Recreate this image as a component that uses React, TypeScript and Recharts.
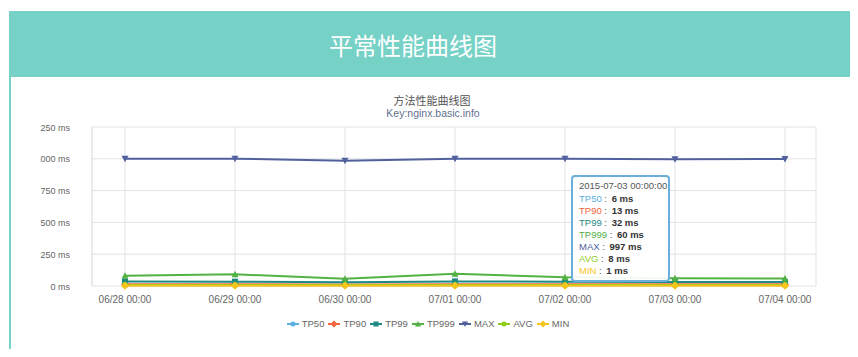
import React from "react";
import { LineChart, Line, XAxis, YAxis, CartesianGrid, Tooltip } from "recharts";

// categories
const dates = ["06/28 00:00", "06/29 00:00", "06/30 00:00", "07/01 00:00", "07/02 00:00", "07/03 00:00", "07/04 00:00"];
const fullDates = ["2015-06-28 00:00:00", "2015-06-29 00:00:00", "2015-06-30 00:00:00", "2015-07-01 00:00:00", "2015-07-02 00:00:00", "2015-07-03 00:00:00", "2015-07-04 00:00:00"];

// series values (ms)
const tp50 = [6, 6, 5, 6, 6, 6, 6];
const tp90 = [14, 13, 12, 14, 13, 13, 13];
const tp99 = [35, 34, 30, 36, 33, 32, 32];
const tp999 = [80, 92, 57, 97, 68, 60, 58];
const maxv = [1000, 1001, 985, 1000, 1000, 997, 998];
const avg = [8, 8, 7, 8, 8, 8, 8];
const minv = [1, 1, 1, 1, 1, 1, 1];

const yTicks = [0, 250, 500, 750, 1000, 1250];

const series = [
  { key: "TP50", color: "#5aafe0", shape: "circle", values: tp50 },
  { key: "TP90", color: "#f5643a", shape: "diamond", values: tp90 },
  { key: "TP99", color: "#1e8a84", shape: "square", values: tp99 },
  { key: "TP999", color: "#52b243", shape: "triangle", values: tp999 },
  { key: "MAX", color: "#50619e", shape: "triangle-down", values: maxv },
  { key: "AVG", color: "#93cc1e", shape: "circle", values: avg },
  { key: "MIN", color: "#f8c51c", shape: "diamond", values: minv },
];

const data = dates.map((d, i) => {
  const row: any = { date: d, full: fullDates[i] };
  series.forEach((s) => (row[s.key] = s.values[i]));
  return row;
});

const FONT = "'Liberation Sans', Arial, sans-serif";
const CJK = "'Noto Sans CJK SC', sans-serif";

const Marker = ({ cx, cy, shape, color, r = 3 }: any) => {
  if (cx == null || cy == null) return null;
  if (shape === "square") return <rect x={cx - r} y={cy - r} width={r * 2} height={r * 2} fill={color} />;
  if (shape === "triangle")
    return <polygon points={`${cx},${cy - r - 0.5} ${cx + r + 0.5},${cy + r} ${cx - r - 0.5},${cy + r}`} fill={color} />;
  if (shape === "triangle-down")
    return <polygon points={`${cx - r - 0.5},${cy - r} ${cx + r + 0.5},${cy - r} ${cx},${cy + r + 0.5}`} fill={color} />;
  if (shape === "diamond")
    return <polygon points={`${cx},${cy - r - 1} ${cx + r + 1},${cy} ${cx},${cy + r + 1} ${cx - r - 1},${cy}`} fill={color} />;
  return <circle cx={cx} cy={cy} r={r} fill={color} />;
};

// y tick as plain text (no wrapping); the chart box clips the leading "1" like the original
const YTick = ({ x, y, payload }: any) => (
  <text x={x} y={y} dy={3.5} textAnchor="end" fill="#666" fontSize={9} fontFamily={FONT}>
    {`${payload.value} ms`}
  </text>
);

const TipContent = ({ active, payload }: any) => {
  if (!active || !payload || !payload.length) return null;
  const row = payload[0].payload;
  return (
    <div
      style={{
        background: "rgba(255,255,255,0.92)",
        border: "2px solid #6aaedc",
        borderRadius: 4,
        padding: "3px 6px 3px 6px",
        fontFamily: FONT,
        fontSize: 9.5,
        lineHeight: "12px",
        width: 83,
        whiteSpace: "nowrap",
      }}
    >
      <div style={{ color: "#555", marginBottom: 1 }}>{row.full}</div>
      {payload.map((p: any) => (
        <div key={p.dataKey}>
          <span style={{ color: p.color }}>{p.name}</span>
          <span style={{ color: "#555" }}> : </span>
          <b style={{ color: "#333", marginLeft: 2 }}>{p.value} ms</b>
        </div>
      ))}
    </div>
  );
};

const LegendIcon = ({ shape, color }: any) => (
  <svg width={12} height={10} style={{ verticalAlign: "middle", marginRight: 3 }}>
    <line x1={0} y1={5} x2={12} y2={5} stroke={color} strokeWidth={2} />
    <Marker cx={6} cy={5} shape={shape} color={color} r={2.5} />
  </svg>
);

export default function App() {
  return (
    <div style={{ position: "relative", width: 858, height: 357, margin: -8, background: "#fff", overflow: "hidden" }}>
      {/* panel */}
      <div
        style={{
          position: "absolute",
          left: 9,
          top: 11,
          width: 844,
          height: 341,
          boxSizing: "border-box",
          border: "2px solid #76d1c6",
          borderTop: "none",
        }}
      />
      <div
        style={{
          position: "absolute",
          left: 9,
          top: 11,
          width: 844,
          height: 66,
          boxSizing: "border-box",
          paddingRight: 36,
          background: "#76d1c6",
          color: "#fff",
          fontFamily: CJK,
          fontSize: 24,
          lineHeight: "68px",
          textAlign: "center",
        }}
      >
        平常性能曲线图
      </div>

      {/* chart titles */}
      <div style={{ position: "absolute", left: 0, top: 93, width: 864, textAlign: "center", fontFamily: CJK, fontSize: 11, color: "#555", lineHeight: "14px" }}>
        方法性能曲线图
      </div>
      <div style={{ position: "absolute", left: 0, top: 106, width: 866, textAlign: "center", fontFamily: FONT, fontSize: 10.5, color: "#5f6f90", lineHeight: "14px" }}>
        Key:nginx.basic.info
      </div>

      {/* chart */}
      <div style={{ position: "absolute", left: 40, top: 84, width: 790, height: 236, overflow: "hidden" }}>
        <LineChart width={790} height={236} data={data} margin={{ top: 43, right: 14, bottom: 4, left: 0 }}>
          <CartesianGrid stroke="#e3e3e3" strokeWidth={1} />
          <XAxis
            dataKey="date"
            padding={{ left: 33, right: 31 }}
            axisLine={false}
            tickLine={false}
            tickSize={0}
            tickMargin={10}
            height={30}
            interval={0}
            tick={{ fill: "#666", fontSize: 10, fontFamily: FONT }}
          />
          <YAxis
            width={52}
            domain={[0, 1250]}
            ticks={yTicks}
            axisLine={{ stroke: "#e3e3e3" }}
            tickLine={false}
            tickSize={0}
            tickMargin={22}
            tick={<YTick />}
          />
          <Tooltip
            content={<TipContent />}
            defaultIndex={5}
            active={true}
            cursor={false}
            position={{ x: 531, y: 91 }}
            isAnimationActive={false}
            wrapperStyle={{ outline: "none" }}
          />
          {series.map((s) => (
            <Line
              key={s.key}
              type="linear"
              dataKey={s.key}
              name={s.key}
              stroke={s.color}
              strokeWidth={2}
              isAnimationActive={false}
              activeDot={false}
              dot={(p: any) => <Marker key={`${s.key}-${p.index}`} cx={p.cx} cy={p.cy} shape={s.shape} color={s.color} />}
            />
          ))}
        </LineChart>
      </div>

      {/* legend */}
      <div
        style={{
          position: "absolute",
          left: 0,
          top: 317,
          width: 856,
          textAlign: "center",
          fontFamily: FONT,
          fontSize: 9.5,
          color: "#666",
          lineHeight: "14px",
        }}
      >
        {series.map((s) => (
          <span key={s.key} style={{ display: "inline-block", margin: "0 2px" }}>
            <LegendIcon shape={s.shape} color={s.color} />
            <span style={{ verticalAlign: "middle" }}>{s.key}</span>
          </span>
        ))}
      </div>
    </div>
  );
}
